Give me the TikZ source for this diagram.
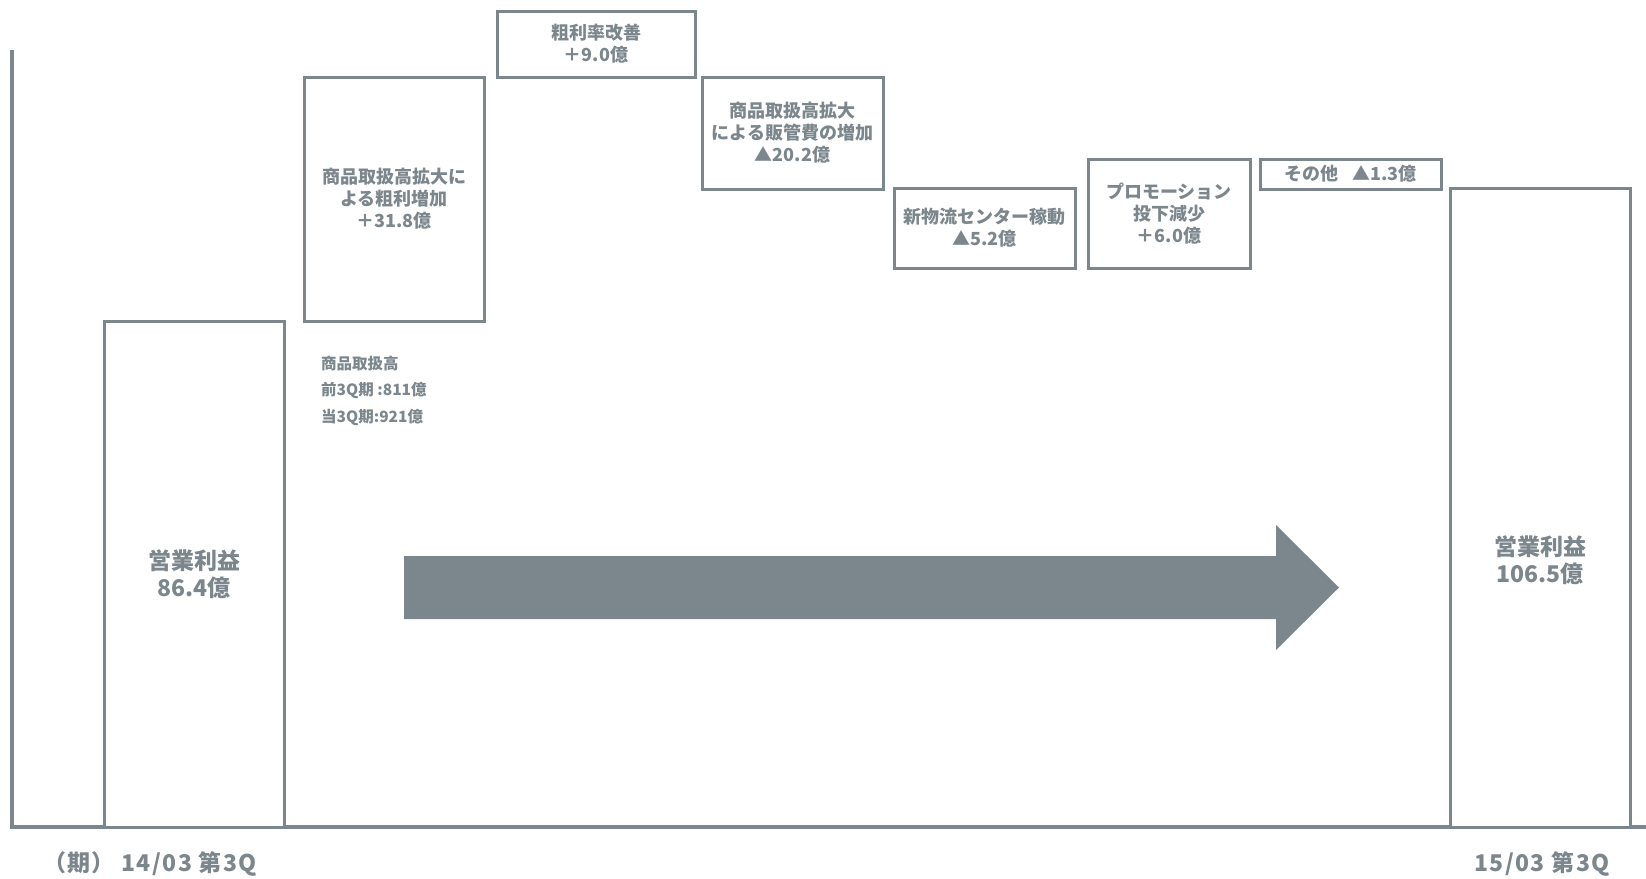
\documentclass[tikz,border=0pt]{standalone}
\usepackage{fontspec}
\setmainfont{Noto Sans CJK JP}
\newfontfamily\labfont{Noto Sans CJK JP}[LetterSpace=6]
\definecolor{gr}{HTML}{7B868D}
\tikzset{
  x=1pt,y=-1pt,
  box/.style={draw=gr,line width=3pt,fill=white,rectangle,inner sep=0pt,align=center,
    text=gr,font=\fontsize{18}{22}\selectfont\bfseries},
  bar/.style={box,font=\fontsize{23}{27}\selectfont\bfseries},
  note/.style={text=gr,font=\fontsize{15.5}{18}\selectfont\bfseries,inner sep=0pt,anchor=west},
  lab/.style={text=gr,font=\labfont\fontsize{23}{26}\selectfont\bfseries,inner sep=0pt},
  axisline/.style={draw=gr,line width=3.5pt}
}
\begin{document}
\begin{tikzpicture}
\useasboundingbox (0,0) rectangle (1646,878);
% axes
\coordinate (ytop) at (12,50);
\coordinate (orig) at (12,827);
\coordinate (xend) at (1646,827);
\draw[axisline] (ytop) -- (orig) -- (xend);
% bars and boxes
\node[bar,minimum width=180,minimum height=506] (barL) at (194,574) {営業利益\\86.4億};
\node[box,minimum width=180,minimum height=244] (b1) at (394,199) {商品取扱高拡大に\\よる粗利増加\\＋31.8億};
\node[box,minimum width=198,minimum height=66] (b2) at (596,44) {粗利率改善\\＋9.0億};
\node[box,minimum width=181,minimum height=112] (b3) at (792.5,133) {商品取扱高拡大\\による販管費の増加\\▲20.2億};
\node[box,minimum width=181,minimum height=80] (b4) at (984.5,228) {新物流センター稼動\\▲5.2億};
\node[box,minimum width=162,minimum height=109] (b5) at (1169,213.5) {プロモーション\\投下減少\\＋6.0億};
\node[box,minimum width=181,minimum height=30] (b6) at (1350.5,174) {その他\hspace{0.8em}▲1.3億};
\node[bar,minimum width=180,minimum height=639] (barR) at (1540,507.5) {};
\node[text=gr,font=\fontsize{23}{27}\selectfont\bfseries,align=center,inner sep=0pt] (barRt) at (1540,560) {営業利益\\106.5億};
% note
\node[note] (n1) at (321,364) {商品取扱高};
\node[note] (n2) at (321,390) {前3Q期 :811億};
\node[note] (n3) at (321,417) {当3Q期:921億};
% big arrow
\fill[gr] (404,556) -- (1276,556) -- (1276,525) -- (1339,587.5) -- (1276,650) -- (1276,619) -- (404,619) -- cycle;
% bottom labels
\node[lab,anchor=west] (l1) at (43,864) {（期） 14/03 第3Q};
\node[lab] (l2) at (1542,864) {15/03 第3Q};
\end{tikzpicture}
\end{document}
